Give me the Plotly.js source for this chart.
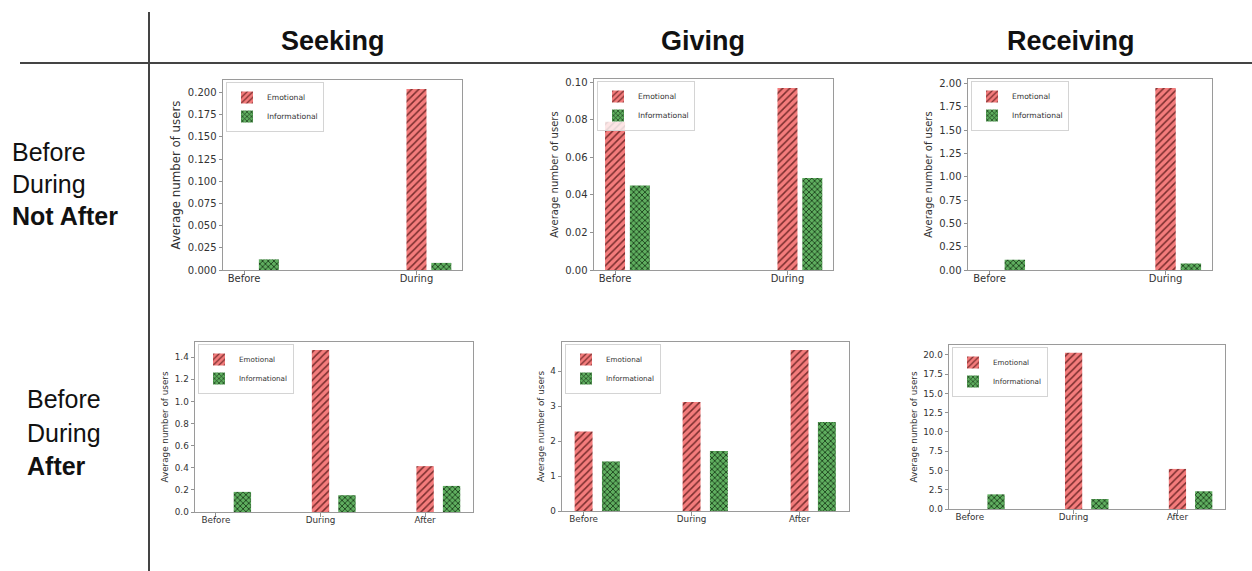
<!DOCTYPE html>
<html>
<head>
<meta charset="utf-8">
<script src="https://cdn.plot.ly/plotly-3.0.1.min.js"></script>
<style>html,body{margin:0;padding:0;background:#fff;}#chart{width:1252px;height:571px;}</style>
</head>
<body>
<div id="chart"></div>
<script>
// ---- data ----
const catsTop = ['Before', 'During'];
const catsBottom = ['Before', 'During', 'After'];
const seriesNames = ['Emotional', 'Informational'];
const columnTitles = ['Seeking', 'Giving', 'Receiving'];
const rowTopLabels = ['Before', 'During', 'Not After'];
const rowBottomLabels = ['Before', 'During', 'After'];
const yTitle = 'Average number of users';

const seekTopEmo = [0, 0.204];
const seekTopInfo = [0.012, 0.008];
const giveTopEmo = [0.079, 0.097];
const giveTopInfo = [0.045, 0.049];
const recvTopEmo = [0, 1.95];
const recvTopInfo = [0.11, 0.07];

const seekBotEmo = [0, 1.465, 0.415];
const seekBotInfo = [0.182, 0.152, 0.236];
const giveBotEmo = [2.28, 3.12, 4.61];
const giveBotInfo = [1.42, 1.715, 2.55];
const recvBotEmo = [0, 20.27, 5.2];
const recvBotInfo = [1.9, 1.3, 2.3];

// ---- layout helpers ----
const W = 1252, H = 571;
const fx = p => p / W;
const fy = p => 1 - p / H;

const panels = [
  {cats: catsTop, emo: seekTopEmo, info: seekTopInfo, x: [223, 462], y: [80, 270], dtick: 0.025, fmt: '.3f', row: 0, leg: [226, 82], title: 11.8},
  {cats: catsTop, emo: giveTopEmo, info: giveTopInfo, x: [594, 833], y: [79, 270], dtick: 0.02, fmt: '.2f', row: 0, leg: [597, 81]},
  {cats: catsTop, emo: recvTopEmo, info: recvTopInfo, x: [968, 1212], y: [79, 270], dtick: 0.25, fmt: '.2f', row: 0, leg: [971, 81]},
  {cats: catsBottom, emo: seekBotEmo, info: seekBotInfo, x: [195, 473], y: [342, 512], dtick: 0.2, fmt: '.1f', row: 1, leg: [198, 344]},
  {cats: catsBottom, emo: giveBotEmo, info: giveBotInfo, x: [562, 849], y: [342, 511], dtick: 1, fmt: 'd', row: 1, leg: [565, 344]},
  {cats: catsBottom, emo: recvBotEmo, info: recvBotInfo, x: [949, 1225], y: [345, 509], dtick: 2.5, fmt: '.1f', row: 1, leg: [952, 347]}
];

const rowGeom = [
  {w: 0.116, d: 0.144, range: [-0.122, 1.264], tick: 10, title: 10, leg: 7.6, xstand: -5},
  {w: 0.166, d: 0.253, range: [-0.2, 2.458], tick: 8.8, title: 8.8, leg: 7.2, xstand: -4}
];

const emoColor = '#f47c7c', emoHatch = '#7a2e2e';
const infoColor = '#5fae5f', infoHatch = '#143214';

const data = [];
const layout = {
  width: W, height: H,
  margin: {l: 0, r: 0, t: 0, b: 0},
  paper_bgcolor: '#fff', plot_bgcolor: '#fff',
  barmode: 'overlay',
  font: {family: 'DejaVu Sans', color: '#333'},
  annotations: [], shapes: []
};

panels.forEach((p, i) => {
  const g = rowGeom[p.row];
  const sfx = i === 0 ? '' : String(i + 1);
  const legName = 'legend' + sfx;
  const xa = 'x' + sfx, ya = 'y' + sfx;
  data.push({
    type: 'bar', x: p.cats, y: p.emo, name: seriesNames[0],
    xaxis: xa, yaxis: ya, legend: legName,
    width: g.w, offset: -g.w / 2,
    marker: {color: emoColor, line: {width: 0},
      pattern: {shape: '/', fillmode: 'replace', bgcolor: emoColor, fgcolor: emoHatch, size: 5, solidity: 0.3}},
    hoverinfo: 'y'
  });
  data.push({
    type: 'bar', x: p.cats, y: p.info, name: seriesNames[1],
    xaxis: xa, yaxis: ya, legend: legName,
    width: g.w, offset: g.d - g.w / 2,
    marker: {color: infoColor, line: {width: 0},
      pattern: {shape: 'x', fillmode: 'replace', bgcolor: infoColor, fgcolor: infoHatch, size: 4, solidity: 0.35}},
    hoverinfo: 'y'
  });
  const ymax = Math.max(...p.emo, ...p.info) * 1.05;
  layout['xaxis' + sfx] = {
    domain: [fx(p.x[0]), fx(p.x[1])], anchor: ya,
    type: 'category', categoryorder: 'array', categoryarray: p.cats,
    range: g.range, fixedrange: true,
    showline: true, mirror: true, linecolor: '#9a9a9a', linewidth: 1,
    ticks: 'outside', ticklen: 3.5, tickcolor: '#777', tickwidth: 0.8,
    ticklabelstandoff: g.xstand,
    tickfont: {family: 'DejaVu Sans', size: g.tick, color: '#333'},
    showgrid: false, zeroline: false
  };
  layout['yaxis' + sfx] = {
    domain: [fy(p.y[1]), fy(p.y[0])], anchor: xa,
    range: [0, ymax], dtick: p.dtick, tick0: 0, tickformat: p.fmt, fixedrange: true,
    showline: true, mirror: true, linecolor: '#9a9a9a', linewidth: 1,
    ticks: 'outside', ticklen: 3.5, tickcolor: '#777', tickwidth: 0.8,
    tickfont: {family: 'DejaVu Sans', size: g.tick, color: '#333'},
    showgrid: false, zeroline: false,
    title: {text: yTitle, font: {family: 'DejaVu Sans', size: p.title || g.title, color: '#333'}, standoff: 4}
  };
  layout[legName] = {
    x: fx(p.leg[0]), y: fy(p.leg[1]), xanchor: 'left', yanchor: 'top',
    xref: 'paper', yref: 'paper',
    bgcolor: 'rgba(255,255,255,0.8)', bordercolor: '#d4d4d4', borderwidth: 1,
    font: {family: 'DejaVu Sans', size: g.leg, color: '#333'},
    tracegroupgap: 0, itemwidth: 30
  };
});

// column headers
const headerX = [333, 703, 1071];
columnTitles.forEach((t, i) => {
  layout.annotations.push({
    text: '<b>' + t + '</b>', x: fx(headerX[i]), y: fy(41), xref: 'paper', yref: 'paper',
    xanchor: 'center', yanchor: 'middle', showarrow: false,
    font: {family: 'Liberation Sans', size: 27, color: '#111'}
  });
});

// row labels
const topY = [152, 184, 216];
rowTopLabels.forEach((t, i) => {
  layout.annotations.push({
    text: i === 2 ? '<b>' + t + '</b>' : t, x: fx(10), y: fy(topY[i]), xref: 'paper', yref: 'paper',
    xanchor: 'left', yanchor: 'middle', showarrow: false,
    font: {family: 'Liberation Sans', size: 25, color: '#111'}
  });
});
const botY = [399, 433, 466];
rowBottomLabels.forEach((t, i) => {
  layout.annotations.push({
    text: i === 2 ? '<b>' + t + '</b>' : t, x: fx(25), y: fy(botY[i]), xref: 'paper', yref: 'paper',
    xanchor: 'left', yanchor: 'middle', showarrow: false,
    font: {family: 'Liberation Sans', size: 25, color: '#111'}
  });
});

// table lines
layout.shapes.push({type: 'line', xref: 'paper', yref: 'paper', x0: fx(149), x1: fx(149), y0: fy(12), y1: 0,
  line: {color: '#444', width: 2}});
layout.shapes.push({type: 'line', xref: 'paper', yref: 'paper', x0: fx(20), x1: 1, y0: fy(63), y1: fy(63),
  line: {color: '#444', width: 2}});

Plotly.newPlot('chart', data, layout, {displayModeBar: false, staticPlot: true});
</script>
</body>
</html>
